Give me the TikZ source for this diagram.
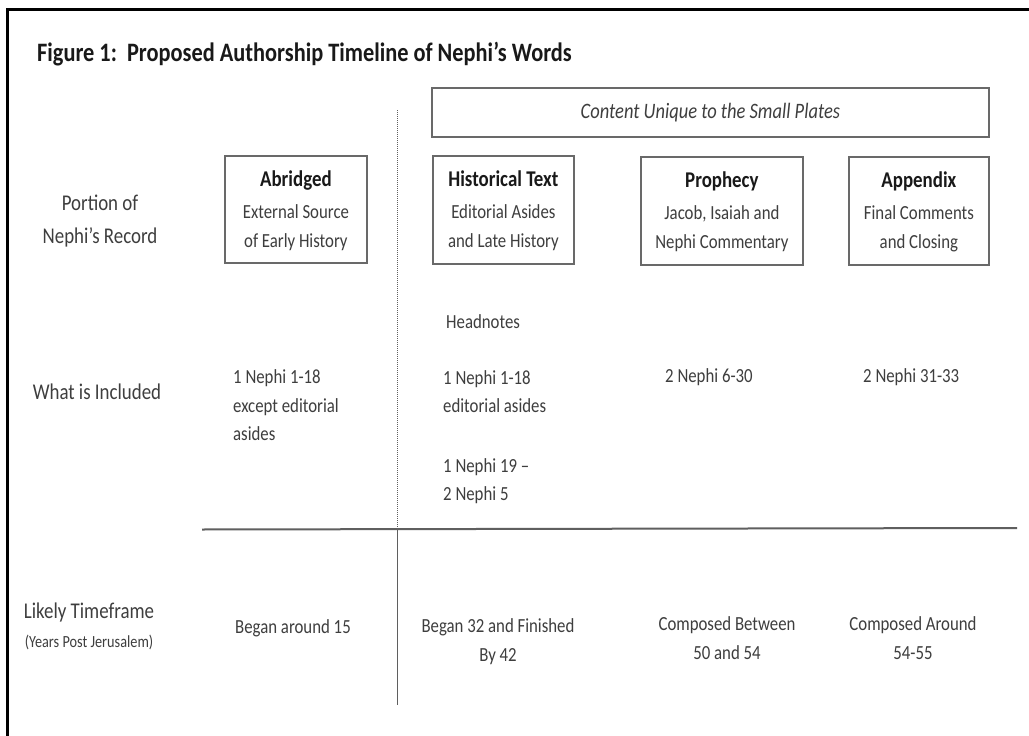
\documentclass[tikz,border=0pt]{standalone}
\usepackage{fontspec}
\setmainfont{Carlito}[FakeStretch=0.84]
\definecolor{boxline}{RGB}{105,105,105}
\definecolor{txt}{RGB}{62,62,62}
\definecolor{txtdark}{RGB}{25,25,25}
\definecolor{rule}{RGB}{95,95,95}
\newcommand\myboxhead[1]{{\bfseries\fontsize{22.5}{29}\selectfont\color{txtdark}#1}}
\begin{document}
\begin{tikzpicture}[x=1pt,y=-1pt,
  box/.style={draw=boxline,line width=1.8pt,rectangle,inner sep=0pt,anchor=north west},
  boxtext/.style={align=center,text=txt,font=\fontsize{20}{29}\selectfont,inner sep=0pt},
  rowlab/.style={align=center,text=txt,font=\fontsize{22.5}{33}\selectfont,inner sep=0pt},
  item/.style={align=left,text=txt,font=\fontsize{20}{28.5}\selectfont,inner sep=0pt,anchor=west},
  cell/.style={align=center,text=txt,font=\fontsize{20}{29}\selectfont,inner sep=0pt}]
\useasboundingbox (0,0) rectangle (1029,736);
\fill[white] (0,0) rectangle (1029,736);
% outer frame (top and left edges)
\coordinate (ftl) at (7,9);
\coordinate (ftr) at (1029,9);
\coordinate (fbl) at (7,736);
\draw[black,line width=3pt] (fbl) -- (ftl) -- (ftr);
% title
\node[anchor=base west,inner sep=0pt,text=txtdark,font=\bfseries\fontsize{26.6}{30}\selectfont] (title) at (37,61)
  {Figure 1:\ \ Proposed Authorship Timeline of Nephi’s Words};
% boxes
\node[box,minimum width=557pt,minimum height=49pt] (unique) at (431,87) {};
\node[text=txt,font=\itshape\fontsize{22}{26}\selectfont,inner sep=0pt] (uniquet) at (unique.center) {Content Unique to the Small Plates};
\node[box,minimum width=142pt,minimum height=107pt] (abr) at (224,155) {};
\node[boxtext] (abrt) at ([yshift=-1pt]abr.center) {\myboxhead{Abridged}\\[3pt]External Source\\of Early History};
\node[box,minimum width=141pt,minimum height=108pt] (hist) at (432,155) {};
\node[boxtext] (histt) at ([yshift=-1pt]hist.center) {\myboxhead{Historical Text}\\[3pt]Editorial Asides\\and Late History};
\node[box,minimum width=162pt,minimum height=108pt] (proph) at (640,156) {};
\node[boxtext] (propht) at ([yshift=-1pt]proph.center) {\myboxhead{Prophecy}\\[3pt]Jacob, Isaiah and\\Nephi Commentary};
\node[box,minimum width=140pt,minimum height=108pt] (app) at (848,156) {};
\node[boxtext] (appt) at ([yshift=-1pt]app.center) {\myboxhead{Appendix}\\[3pt]Final Comments\\and Closing};
% row labels
\node[rowlab] (r1) at (100,221.5) {Portion of\\Nephi’s Record};
\node[rowlab] (r2) at (97,392) {What is Included};
\node[rowlab] (r3) at (89,612) {Likely Timeframe};
\node[text=txt,font=\fontsize{17}{20}\selectfont,inner sep=0pt] (r3b) at (89,642) {(Years Post Jerusalem)};
% included items
\node[item] (i1) at (233,405.5) {1 Nephi 1-18\\except editorial\\asides};
\node[item] (i2a) at (446,322) {Headnotes};
\node[item] (i2b) at (443,391.5) {1 Nephi 1-18\\editorial asides};
\node[item] (i2c) at (443,481) {1 Nephi 19 –\\2 Nephi 5};
\node[item] (i3) at (665,377) {2 Nephi 6-30};
\node[item] (i4) at (863,377) {2 Nephi 31-33};
% timeframes
\node[cell] (t1) at (293,628) {Began around 15};
\node[cell] (t2) at (498,641.5) {Began 32 and Finished\\By 42};
\node[cell] (t3) at (727,638) {Composed Between\\50 and 54};
\node[cell] (t4) at (913,638) {Composed Around\\54-55};
% divider lines
\coordinate (hL) at (202,529.5);
\coordinate (hR) at (1017,528);
\coordinate (vT) at (397.5,110);
\coordinate (vM) at (397.5,529);
\coordinate (vB) at (397.5,705);
\draw[rule,line width=2pt] (hL) -- (hR);
\draw[rule,line width=1pt,densely dotted] (vT) -- (vM);
\draw[rule,line width=1pt] (vM) -- (vB);
\end{tikzpicture}
\end{document}
